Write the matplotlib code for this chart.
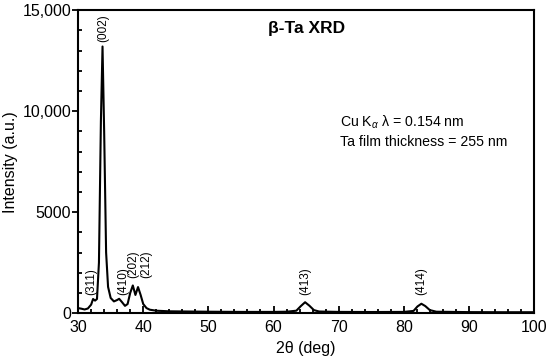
import matplotlib.pyplot as plt
from matplotlib.ticker import MultipleLocator

plt.rcParams['font.family'] = ['Liberation Sans', 'DejaVu Sans']
plt.rcParams['mathtext.fontset'] = 'custom'
plt.rcParams['mathtext.rm'] = 'Liberation Sans'
plt.rcParams['mathtext.it'] = 'Liberation Sans:italic'

# XRD scan
two_theta = [30.0, 30.5, 31.0, 31.5, 32.0, 32.3, 32.6, 32.9, 33.2, 33.5, 33.75,
             34.0, 34.3, 34.6, 35.0, 35.5, 36.0, 36.3, 36.7, 37.2, 37.6, 38.0,
             38.4, 38.8, 39.2, 39.6, 40.0, 40.5, 41.0, 42.0, 44.0, 50.0, 55.0,
             60.0, 62.0, 63.5, 64.2, 64.85, 65.5, 66.2, 67.0, 70.0, 75.0, 80.0,
             81.5, 82.1, 82.7, 83.3, 84.0, 85.0, 90.0, 95.0, 100.0]
intensity = [250, 220, 180, 230, 420, 700, 620, 700, 2500, 9500, 13200,
             9000, 3000, 1300, 750, 580, 650, 710, 560, 360, 450, 1000,
             1370, 900, 1290, 900, 450, 250, 170, 120, 90, 70, 60,
             60, 70, 120, 350, 540, 370, 150, 80, 60, 55, 60,
             110, 330, 465, 350, 150, 70, 50, 45, 45]

peak_labels = ["(311)", "(002)", "(410)", "(202)", "(212)", "(413)", "(414)"]
peak_x = [32.0, 33.8, 36.9, 38.4, 40.4, 64.85, 82.7]
peak_y = [880, 13400, 880, 1750, 1750, 880, 880]

fig = plt.figure(figsize=(5.5, 3.62), dpi=100)
ax = fig.add_axes([0.142, 0.135, 0.829, 0.837])

ax.plot(two_theta, intensity, color='black', linewidth=1.5)

for lab, px, py in zip(peak_labels, peak_x, peak_y):
    ax.text(px, py, lab, rotation=90, ha='center', va='bottom', fontsize=8.5)

ax.text(0.5, 0.94, "β-Ta XRD", transform=ax.transAxes, ha='center',
        va='center', fontsize=12.5, fontweight='bold')
ax.text(0.575, 0.60, "Cu K$_{\\alpha}$ λ = 0.154 nm\nTa film thickness = 255 nm",
        transform=ax.transAxes, ha='left', va='center', fontsize=10.2,
        linespacing=1.3)

ax.set_xlim(30, 100)
ax.set_ylim(0, 15000)
ax.set_xticks(range(30, 101, 10))
ax.set_yticks([0, 5000, 10000, 15000])
ax.set_yticklabels(["0", "5000", "10,000", "15,000"])
ax.xaxis.set_minor_locator(MultipleLocator(2))
ax.yaxis.set_minor_locator(MultipleLocator(1000))
ax.tick_params(which='both', direction='in', top=False, right=False,
               labelsize=11.5, width=1.3)
ax.tick_params(axis='x', which='major', length=5, pad=5)
ax.tick_params(axis='y', which='major', direction='out', length=4, pad=1)
ax.tick_params(which='minor', length=3)
for s in ax.spines.values():
    s.set_linewidth(1.5)

ax.set_xlabel("2θ (deg)", fontsize=11.5, labelpad=4)
ax.set_ylabel("Intensity (a.u.)", fontsize=11.5)
ax.yaxis.set_label_coords(-0.132, 0.5)

fig.savefig("out.png", dpi=100)
